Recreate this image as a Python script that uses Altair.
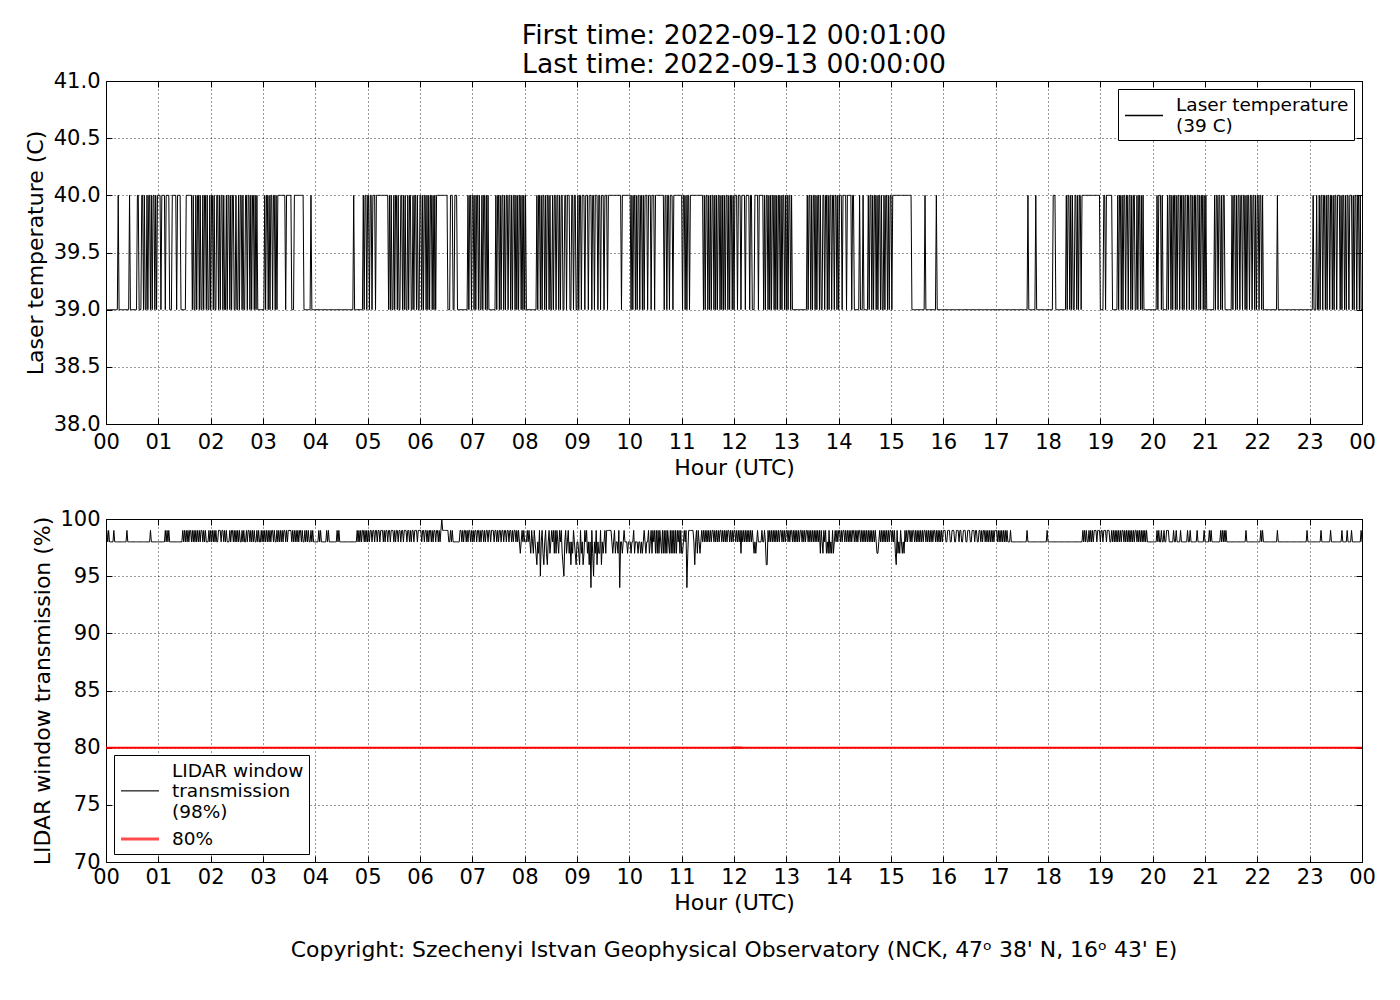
import altair as alt
import pandas as pd

TITLE_LINES = ["First time: 2022-09-12 00:01:00", "Last time: 2022-09-13 00:00:00"]
COPYRIGHT = "Copyright: Szechenyi Istvan Geophysical Observatory (NCK, 47ᵒ  38' N, 16ᵒ  43' E)"
X_TITLE = "Hour (UTC)"
TEMP_TITLE = "Laser temperature (C)"
TRANS_TITLE = "LIDAR window transmission (%)"
TEMP_LABEL = "Laser temperature\n(39 C)"
TRANS_LABEL = "LIDAR window\ntransmission\n(98%)"
THRESH_LABEL = "80%"
THRESHOLD = [80]
HOUR_TICKS = list(range(25))
TEMP_TICKS = [38.0, 38.5, 39.0, 39.5, 40.0, 40.5, 41.0]
TRANS_TICKS = [70, 75, 80, 85, 90, 95, 100]

# Laser temperature, one digit per minute (0 = 39 C, 1 = 40 C), one string per hour
TEMP_BY_HOUR = [
    "0000000000 0001000000 0000001000 0000011000 1101001011 0101101011",
    "1101111011 1100011111 0111100000 0111111101 0010110100 1011010010",
    "1101001101 0110100101 1010110010 0101101001 1011010110 1010000000",
    "0101101011 0110101111 1111101111 1100011111 1111110000 0000100000",
    "0000000000 0000000000 0000000000 0000000000 0001000000 0000101101",
    "1011011101 1111111111 1110101001 0110100110 1010010110 0101101001",
    "1010110101 0110101011 1111111111 1000111001 1100000000 0000101101",
    "1010110100 1011010100 0000001011 0101101011 0110101101 0101101010",
    "1000000000 0001011010 1101011010 0101101101 0110011011 1001101100",
    "1011011101 1101110110 1110110111 0111011111 1111111111 0111111111",
    "1010110101 1011010111 0111011101 1111111110 1101101110 1111111111",
    "0110101101 1111111111 1111010110 1010110101 0110101010 1101011010",
    "1110111011 1101111011 0001111011 1110101101 0101101010 1101011010",
    "1011010000 0000000000 0001011010 1101011010 0110110101 1011011010",
    "1110111101 1111011000 0001000100 0001011010 1101011010 0101101011",
    "0111111111 1111111111 1110000000 0000000010 0000000000 0100000000",
    "0000000000 0000000000 0000000000 0000000000 0000000000 0000000000",
    "0000000000 0000000000 0000000000 0000001000 0000010000 0000000000",
    "0000011100 0000000000 1011010100 1101011011 1111111111 1111111110",
    "0001101111 1110000001 0110101101 1011010110 0101101010 0000000000",
    "0000101110 1000001011 0101101011 0110101101 1011010110 1101011010",
    "1000000000 1011011010 1100000000 1011010110 1101101011 0110110101",
    "1011010000 0000000000 0010000000 0000000000 0000000000 0000000000",
    "0001000100 1011011010 1101101011 0111010110 1011011101 0110110100",
]

# Window transmission, one digit per minute (8 = 98 %, 9 = 99 %, 0 = 100 %, ...)
TRANS_BY_HOUR = [
    "9898888898 8888888888 8889888888 8888888888 8888888888 9888888888",
    "8888888989 8988888888 8888888989 8989899898 9898989899 8989888989",
    "8989898899 9899898988 8989989898 9898898988 9899898989 8898988989",
    "8989898989 9898898989 8989989899 9989898989 8998988989 8988989888",
    "8889898888 8898988888 8888989888 8888888888 8888888989 8989989898",
    "9899899899 8998999898 9989989998 9899899899 8999899898 9989998999",
    "9899899898 9989899899 8989099999 9988989888 8888899898 9989899898",
    "9899899898 9989899899 8999899898 9989989989 9899898998 9898789898",
    "8898987987 9876879589 7689768978 9897979879 8976589789 7868798768",
    "8769786798 9786849758 7968779687 8979999998 7897887948 8789888788",
    "8788978887 8878789878 8978979897 9797987979 7979879797 9797989797",
    "7898947999 9998689798 7898989898 9898998989 8989989898 9899898989",
    "9898989798 9898989898 9878789888 8988986698 9898989898 9899898989",
    "9898998989 8989899898 9899898989 8989898979 8798978797 8797898989",
    "9898998989 8989899898 9899898989 8989898989 8987789898 9898989899",
    "8989769787 9878798989 9898998989 8989898998 9898989899 8989898989",
    "9988999889 9988999899 8899988999 8899989988 9989899898 9898989899",
    "9898989898 9898889888 8888888888 8888898888 8888888888 8888888898",
    "8888888888 8888888888 8888888888 8888888889 8989889898 9899989998",
    "9989998999 8898989898 9898998989 8989898989 9898989898 9898888888",
    "8888989889 8898899988 8889889888 8988888889 8898888888 9888888898",
    "8888989888 8888888989 8989888888 8888888888 8888889888 8888888888",
    "8889898888 8888888888 8898888888 8888888888 8888888888 8888889888",
    "8888888888 8898888888 8889888888 8888889888 8898888988 8888888898",
]
TRANS_LEVEL = {"0": 100, "4": 94, "5": 95, "6": 96, "7": 97, "8": 98, "9": 99}

temp_codes = "".join(TEMP_BY_HOUR).replace(" ", "")
trans_codes = "".join(TRANS_BY_HOUR).replace(" ", "")

temp_df = pd.DataFrame({
    "hour": [(i + 1) / 60 for i in range(len(temp_codes))],
    "value": [39 + int(c) for c in temp_codes],
    "series": TEMP_LABEL,
})
trans_df = pd.DataFrame({
    "hour": [(i + 1) / 60 for i in range(len(trans_codes))],
    "value": [TRANS_LEVEL[c] for c in trans_codes],
    "series": TRANS_LABEL,
})
thresh_df = pd.DataFrame({"value": THRESHOLD, "series": [THRESH_LABEL]})

FONT = "DejaVu Sans"
PW, PH = 1256, 343
TICK_LEN = 6
hour_expr = "datum.value == 24 ? '00' : (datum.value < 10 ? '0' : '') + datum.value"

# legend line symbols (custom paths in symbol units), moved down to the middle
# line of the multi-line labels; the 80 % one is drawn double for a thicker line
SYM_MID2 = "M-0.9,1.05H2.9"
SYM_MID3 = "M-0.9,2.0H2.9M-0.9,2.06H2.9"
SYM_THICK = "M-0.9,-0.05H2.9M-0.9,0.05H2.9"

X_SCALE = alt.Scale(domain=[0, 24], nice=False, zero=False)
TEMP_SCALE = alt.Scale(domain=[38, 41], nice=False, zero=False)
TRANS_SCALE = alt.Scale(domain=[70, 100], nice=False, zero=False)


def tick_axis(orient, values):
    # an axis that only draws short ticks pointing into the plot
    return alt.Axis(orient=orient, offset=-TICK_LEN, values=values, ticks=True,
                    tickSize=TICK_LEN, tickColor="black", tickWidth=1, labels=False,
                    domain=False, grid=False, title=None)


def tick_layers(df, yscale, yvalues):
    layers = []
    for xo, yo in (("top", "right"), ("bottom", "left")):
        layers.append(alt.Chart(df).mark_line(opacity=0).encode(
            x=alt.X("hour:Q", scale=X_SCALE, axis=tick_axis(xo, HOUR_TICKS)),
            y=alt.Y("value:Q", scale=yscale, axis=tick_axis(yo, yvalues)),
        ))
    return layers


def x_enc(label_pad):
    return alt.X(
        "hour:Q", scale=X_SCALE,
        axis=alt.Axis(orient="bottom", values=HOUR_TICKS, labelExpr=hour_expr, title=X_TITLE,
                      labelFlush=False, labelPadding=label_pad, titlePadding=5),
    )


def legend(orient, sym):
    return alt.Legend(
        orient=orient, offset=8, title=None, strokeColor="black", fillColor="white",
        padding=5, cornerRadius=0, symbolType=sym, symbolSize=400,
        labelFontSize=18.5, labelFont=FONT, labelColor="black", labelLimit=0,
        labelOffset=31, labelExpr="split(datum.label, '\\n')", rowPadding=7,
    )


temp_line = alt.Chart(temp_df).mark_line(strokeWidth=1).encode(
    x=x_enc(7),
    y=alt.Y("value:Q", scale=TEMP_SCALE,
            axis=alt.Axis(orient="left", values=TEMP_TICKS, format=".1f", title=TEMP_TITLE,
                          labelPadding=6, titlePadding=6)),
    color=alt.Color("series:N", scale=alt.Scale(domain=[TEMP_LABEL], range=["black"]),
                    legend=legend("top-right", SYM_MID2)),
)

top = alt.layer(temp_line, *tick_layers(temp_df, TEMP_SCALE, TEMP_TICKS)).resolve_axis(
    x="independent", y="independent",
).properties(
    width=PW, height=PH,
    title=alt.TitleParams(TITLE_LINES, fontSize=26.6, font=FONT, fontWeight="normal",
                          color="black", lineHeight=29, offset=-9, anchor="middle"),
)

BOTTOM_SERIES = [TRANS_LABEL, THRESH_LABEL]
series_color = alt.Color("series:N",
                         scale=alt.Scale(domain=BOTTOM_SERIES, range=["black", "red"]),
                         legend=legend("bottom-left", SYM_THICK))
series_width = alt.StrokeWidth("series:N",
                               scale=alt.Scale(domain=BOTTOM_SERIES, range=[1, 2]),
                               legend=legend("bottom-left", SYM_THICK))
series_shape = alt.Shape("series:N",
                         scale=alt.Scale(domain=BOTTOM_SERIES, range=[SYM_MID3, SYM_THICK]),
                         legend=legend("bottom-left", SYM_THICK))

trans_line = alt.Chart(trans_df).mark_line().encode(
    x=x_enc(4),
    y=alt.Y("value:Q", scale=TRANS_SCALE,
            axis=alt.Axis(orient="left", values=TRANS_TICKS, format="d", title=TRANS_TITLE,
                          labelPadding=6, titlePadding=5)),
    color=series_color,
    strokeWidth=series_width,
)
thresh_rule = alt.Chart(thresh_df).mark_rule().encode(
    y=alt.Y("value:Q", scale=TRANS_SCALE, axis=None),
    color=series_color,
    strokeWidth=series_width,
)
# a flat marker lying on the 80 % rule: it carries the legend symbol shapes
thresh_mark = alt.Chart(thresh_df).mark_point(filled=False).encode(
    y=alt.Y("value:Q", scale=TRANS_SCALE, axis=None),
    color=series_color,
    strokeWidth=series_width,
    shape=series_shape,
)

bottom = alt.layer(
    trans_line, thresh_rule, thresh_mark, *tick_layers(trans_df, TRANS_SCALE, TRANS_TICKS)
).resolve_axis(
    x="independent", y="independent",
).properties(
    width=PW, height=PH,
    title=alt.TitleParams(COPYRIGHT, orient="bottom", fontSize=21.9, font=FONT,
                          fontWeight="normal", color="black", offset=27, anchor="middle"),
)

chart = alt.vconcat(top, bottom, spacing=28).resolve_scale(
    color="independent", strokeWidth="independent", shape="independent",
).resolve_legend(
    color="independent", strokeWidth="independent", shape="independent",
).properties(
    padding={"left": 15, "top": 14, "right": 5, "bottom": 5},
).configure(
    font=FONT,
).configure_view(
    stroke="black", strokeWidth=1,
).configure_axis(
    labelFontSize=21, titleFontSize=22, labelFont=FONT, titleFont=FONT,
    labelColor="black", titleColor="black", titleFontWeight="normal",
    grid=True, gridColor="black", gridDash=[1, 3], gridOpacity=0.8, gridWidth=1,
    ticks=False, tickSize=0, domain=False,
)

chart.save("out.html", embed_options={"renderer": "svg", "actions": False})
